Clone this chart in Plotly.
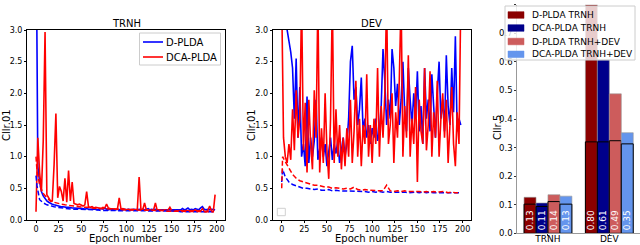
import plotly.graph_objects as go

W, H = 640, 245
def px(x):
    return x / W
def py(y):
    return 1 - y / H

FONT = "DejaVu Sans"

# ---------------- data ----------------
epochs = list(range(0, 200, 2))
epochs_dash = [0, 1] + list(range(4, 200, 4))

line_names = ["D-PLDA", "DCA-PLDA"]

trnh_dplda = [
    5.0, 0.85, 0.6, 0.45, 0.38, 0.33, 0.3, 0.28, 0.26, 0.25,
    0.24, 0.23, 0.22, 0.22, 0.21, 0.21, 0.2, 0.2, 0.2, 0.19,
    0.19, 0.19, 0.19, 0.18, 0.18, 0.18, 0.18, 0.17, 0.18, 0.17,
    0.17, 0.18, 0.17, 0.17, 0.16, 0.17, 0.18, 0.17, 0.19, 0.17,
    0.16, 0.17, 0.16, 0.17, 0.16, 0.17, 0.16, 0.17, 0.16, 0.17,
    0.16, 0.17, 0.16, 0.16, 0.17, 0.16, 0.16, 0.17, 0.16, 0.17,
    0.16, 0.17, 0.18, 0.16, 0.17, 0.16, 0.17, 0.16, 0.16, 0.17,
    0.16, 0.17, 0.16, 0.17, 0.16, 0.17, 0.16, 0.17, 0.16, 0.17,
    0.16, 0.18, 0.16, 0.17, 0.19, 0.16, 0.17, 0.16, 0.18, 0.17,
    0.16, 0.19, 0.21, 0.17, 0.16, 0.17, 0.16, 0.17, 0.16, 0.16,
]
trnh_dcaplda = [
    0.13, 1.3, 0.75, 0.45, 1.25, 2.97, 0.4, 0.35, 0.3, 0.3,
    0.87, 1.68, 0.35, 0.53, 0.45, 0.3, 0.66, 0.28, 0.78, 0.3,
    0.6, 0.26, 0.25, 0.24, 0.25, 0.23, 0.22, 0.24, 0.45, 0.21,
    0.2, 0.21, 0.19, 0.2, 0.19, 0.19, 0.18, 0.2, 0.19, 0.25,
    0.19, 0.18, 0.18, 0.17, 0.18, 0.17, 0.35, 0.17, 0.18, 0.17,
    0.16, 0.17, 0.16, 0.17, 0.16, 0.16, 0.17, 0.68, 0.17, 0.16,
    0.27, 0.16, 0.15, 0.16, 0.15, 0.16, 0.27, 0.15, 0.16, 0.15,
    0.15, 0.16, 0.15, 0.16, 0.2, 0.15, 0.14, 0.15, 0.14, 0.15,
    0.14, 0.15, 0.14, 0.15, 0.14, 0.14, 0.15, 0.14, 0.16, 0.14,
    0.15, 0.14, 0.18, 0.14, 0.13, 0.15, 0.22, 0.14, 0.13, 0.4,
]
trnh_dplda_dash = [
    0.7, 0.55,
    0.32, 0.27, 0.24, 0.22, 0.21, 0.2, 0.19, 0.18, 0.18, 0.17,
    0.17, 0.17, 0.16, 0.16, 0.16, 0.16, 0.16, 0.15, 0.15, 0.15,
    0.15, 0.15, 0.15, 0.15, 0.15, 0.15, 0.15, 0.14, 0.14, 0.14,
    0.14, 0.14, 0.14, 0.14, 0.14, 0.14, 0.14, 0.14, 0.14, 0.13,
    0.13, 0.13, 0.13, 0.13, 0.13, 0.13, 0.13, 0.13, 0.13,
]
trnh_dcaplda_dash = [
    1.0, 0.8,
    0.55, 0.42, 0.35, 0.3, 0.28, 0.26, 0.25, 0.24, 0.23, 0.22,
    0.21, 0.21, 0.2, 0.2, 0.19, 0.19, 0.18, 0.18, 0.18, 0.17,
    0.17, 0.17, 0.17, 0.16, 0.16, 0.16, 0.16, 0.16, 0.15, 0.15,
    0.15, 0.15, 0.15, 0.15, 0.15, 0.14, 0.14, 0.14, 0.14, 0.14,
    0.14, 0.14, 0.14, 0.14, 0.13, 0.13, 0.13, 0.13, 0.13,
]

dev_dplda = [
    3.5, 3.5, 3.5, 3.0, 2.85, 2.65, 2.4, 1.6, 2.55, 1.3,
    2.1, 1.0, 1.2, 0.85, 1.95, 0.9, 1.3, 1.0, 1.25, 1.9,
    0.95, 1.15, 1.3, 1.0, 1.2, 0.85, 1.1, 1.3, 0.95, 1.2,
    1.05, 1.25, 0.9, 1.1, 1.3, 1.0, 1.2, 1.6, 2.5, 2.75,
    1.9, 2.1, 1.5, 1.75, 2.25, 1.4, 1.6, 1.3, 1.5, 1.2,
    1.45, 1.3, 1.6, 1.25, 1.4, 1.8, 2.7, 2.2, 1.5, 1.9,
    1.6, 2.7, 2.4, 1.8, 2.15, 1.5, 1.9, 2.5, 1.7, 1.4,
    2.4, 1.9, 1.5, 2.0, 1.6, 2.35, 1.4, 1.8, 1.2, 2.4,
    1.6, 1.9, 1.4, 2.3, 1.7, 1.3, 2.0, 2.5, 1.6, 1.9,
    1.4, 2.6, 1.8, 1.5, 2.4, 1.7, 2.9, 1.4, 1.6, 1.5,
]
dev_dcaplda = [
    3.5, 1.3, 1.0, 0.9, 1.2, 0.95, 1.75, 1.1, 2.05, 1.3,
    1.6, 3.5, 1.1, 1.85, 0.75, 1.9, 1.2, 0.8, 2.05, 1.3,
    3.5, 0.75, 1.45, 0.9, 2.0, 1.1, 0.65, 1.6, 3.5, 0.9,
    1.75, 1.0, 1.5, 0.8, 1.3, 0.85, 1.45, 1.0, 1.9, 0.9,
    1.4, 2.2, 1.0, 1.6, 0.85, 1.5, 1.2, 2.3, 1.0, 1.5,
    0.9, 1.6, 1.2, 2.4, 1.0, 1.8, 1.3, 2.0, 3.5, 1.2,
    1.5, 2.0, 0.9, 1.7, 1.3, 2.2, 3.5, 1.0, 1.8, 1.3,
    2.6, 1.0, 1.6, 1.2, 2.1, 0.6, 1.9, 1.4, 1.2, 2.4,
    1.1, 1.5, 2.35, 1.0, 1.7, 1.3, 2.2, 1.0, 1.6, 2.0,
    1.3, 1.9, 0.9, 1.5, 2.1, 1.2, 0.85, 1.7, 1.2, 3.5,
]
dev_dplda_dash = [
    0.6, 0.8,
    0.68, 0.6, 0.56, 0.54, 0.52, 0.5, 0.5, 0.49, 0.48, 0.49,
    0.47, 0.47, 0.48, 0.46, 0.47, 0.46, 0.46, 0.45, 0.46, 0.45,
    0.45, 0.46, 0.45, 0.44, 0.45, 0.44, 0.45, 0.44, 0.45, 0.44,
    0.44, 0.45, 0.44, 0.44, 0.43, 0.44, 0.44, 0.43, 0.44, 0.43,
    0.44, 0.43, 0.43, 0.44, 0.43, 0.43, 0.44, 0.43, 0.43,
]
dev_dcaplda_dash = [
    0.5, 1.0,
    0.92, 0.82, 0.72, 0.66, 0.62, 0.6, 0.58, 0.57, 0.55, 0.55,
    0.53, 0.52, 0.52, 0.5, 0.51, 0.5, 0.49, 0.5, 0.49, 0.52,
    0.48, 0.47, 0.48, 0.47, 0.47, 0.46, 0.47, 0.46, 0.55, 0.46,
    0.45, 0.46, 0.45, 0.46, 0.45, 0.45, 0.46, 0.45, 0.44, 0.45,
    0.44, 0.45, 0.44, 0.44, 0.45, 0.43, 0.44, 0.43, 0.43,
]

bar_groups = ["TRNH", "DEV"]
bar_names = ["D-PLDA TRNH", "DCA-PLDA TRNH", "D-PLDA TRNH+DEV", "DCA-PLDA TRNH+DEV"]
bar_full = [
    [0.126, 0.80],
    [0.106, 0.607],
    [0.135, 0.488],
    [0.13, 0.352],
]
bar_inner = [
    [0.102, 0.32],
    [0.094, 0.32],
    [0.111, 0.324],
    [0.102, 0.313],
]
bar_colors = ["#8B0000", "#00008B", "#CD5C5C", "#6495ED"]

# ---------------- figure ----------------
fig = go.Figure()

BLUE, RED = "#0000FF", "#FF0000"
DASH = "5px,2.5px"

def add_lines(xa, ya, solid_b, solid_r, dash_b, dash_r):
    fig.add_trace(go.Scatter(x=epochs, y=solid_b, mode="lines", name=line_names[0],
                             line=dict(color=BLUE, width=1.6), xaxis=xa, yaxis=ya))
    fig.add_trace(go.Scatter(x=epochs, y=solid_r, mode="lines", name=line_names[1],
                             line=dict(color=RED, width=1.6), xaxis=xa, yaxis=ya))
    fig.add_trace(go.Scatter(x=epochs_dash, y=dash_b, mode="lines", name=line_names[0],
                             line=dict(color=BLUE, width=1.5, dash=DASH), xaxis=xa, yaxis=ya))
    fig.add_trace(go.Scatter(x=epochs_dash, y=dash_r, mode="lines", name=line_names[1],
                             line=dict(color=RED, width=1.5, dash=DASH), xaxis=xa, yaxis=ya))

add_lines("x", "y", trnh_dplda, trnh_dcaplda, trnh_dplda_dash, trnh_dcaplda_dash)
add_lines("x2", "y2", dev_dplda, dev_dcaplda, dev_dplda_dash, dev_dcaplda_dash)

for i, name in enumerate(bar_names):
    fig.add_trace(go.Bar(x=bar_groups, y=bar_full[i], name=name, offsetgroup=str(i),
                         marker=dict(color=bar_colors[i],
                                     line=dict(color="rgba(150,150,150,0.6)", width=1)),
                         xaxis="x3", yaxis="y3"))
    fig.add_trace(go.Bar(x=bar_groups, y=bar_inner[i], name=name, offsetgroup=str(i),
                         marker=dict(color=bar_colors[i], line=dict(color="black", width=1)),
                         text=[f"{v:.2f}" for v in bar_full[i]],
                         textposition="inside", insidetextanchor="start", textangle=-90,
                         textfont=dict(color="white", size=9, family=FONT),
                         xaxis="x3", yaxis="y3"))

line_ax = dict(range=[-9.95, 208.95], tickvals=[0, 25, 50, 75, 100, 125, 150, 175, 200],
               ticks="outside", ticklen=2, tickcolor="black", showline=True, mirror=True,
               linecolor="black", linewidth=1, showgrid=False, zeroline=False,
               tickfont=dict(size=8, color="black"), automargin=False,
               ticklabelstandoff=-1)
line_ay = dict(range=[0, 3], tickvals=[0, 0.5, 1.0, 1.5, 2.0, 2.5, 3.0], tickformat=".1f",
               ticks="outside", ticklen=2, tickcolor="black", showline=True, mirror=True,
               linecolor="black", linewidth=1, showgrid=False, zeroline=False,
               tickfont=dict(size=8, color="black"), automargin=False)

yd = [py(220), py(30)]
fig.update_layout(
    width=W, height=H, margin=dict(l=0, r=0, t=0, b=0),
    paper_bgcolor="white", plot_bgcolor="white",
    font=dict(family=FONT, color="black"),
    barmode="group", bargap=0.22, bargroupgap=0.0,
    showlegend=False,
    xaxis=dict(line_ax, domain=[px(27), px(225)], anchor="y"),
    yaxis=dict(line_ay, domain=yd, anchor="x"),
    xaxis2=dict(line_ax, domain=[px(272.7), px(470.7)], anchor="y2"),
    yaxis2=dict(line_ay, domain=yd, anchor="x2"),
    xaxis3=dict(domain=[px(517.3), 1.0], anchor="y3", range=[-0.5, 1.5],
                ticks="outside", ticklen=2, tickcolor="#333", showline=True,
                linecolor="#999", linewidth=1, showgrid=False, zeroline=False,
                tickfont=dict(size=9, color="black"), automargin=False,
                ticklabelstandoff=-5),
    yaxis3=dict(domain=[py(233.3), py(4.7)], anchor="x3", range=[0, 0.8], dtick=0.1,
                tickformat=".1f", ticks="outside", ticklen=2, tickcolor="#333",
                showline=True, linecolor="#999", linewidth=1, showgrid=False,
                zeroline=False, tickfont=dict(size=8.5, color="black"), automargin=False),
    uniformtext=dict(minsize=9, mode="show"),
)

def ann(text, x, y, size=10, angle=0, anchor="center"):
    fig.add_annotation(text=text, x=px(x), y=py(y), xref="paper", yref="paper",
                       showarrow=False, textangle=angle,
                       font=dict(size=size, family=FONT, color="black"),
                       xanchor=anchor, yanchor="middle")

def rect(x0, y0, x1, y1, fill, line_color, lw=1):
    fig.add_shape(type="rect", xref="paper", yref="paper",
                  x0=px(x0), x1=px(x1), y0=py(y1), y1=py(y0),
                  line=dict(color=line_color, width=lw), fillcolor=fill)

ann("TRNH", 126, 23.5)
ann("DEV", 371.7, 23.5)
ann("Epoch number", 126, 238.5)
ann("Epoch number", 371.7, 238.5)
ann("Cllr.01", 6, 125, angle=-90)
ann("Cllr.01", 251, 125, angle=-90)
ann("Cllr.5", 497, 128, angle=-90)

# legend of the TRNH panel
rect(139.5, 33, 220.5, 65, "rgba(255,255,255,0.8)", "#cccccc")
for name, col, yy in zip(line_names, [BLUE, RED], [42, 57]):
    fig.add_shape(type="line", xref="paper", yref="paper",
                  x0=px(143), x1=px(163), y0=py(yy), y1=py(yy),
                  line=dict(color=col, width=1.6))
    ann(name, 163.5, yy, size=10, anchor="left")

# empty legend frame in DEV panel
rect(277.3, 208.3, 285.3, 215.7, "white", "#d0d0d0")

# legend of the bar panel
rect(505, 6, 635, 60, "rgba(255,255,255,0.8)", "#cccccc")
for name, col, yy in zip(bar_names, bar_colors, [15, 28, 41.5, 54.3]):
    rect(508, yy - 3.3, 524, yy + 3.3, col, col, 0.5)
    ann(name, 529.5, yy, size=9, anchor="left")

fig.write_html("out.html",
               config={"displayModeBar": False},
               post_script="document.body.style.margin='0';"
                           "document.body.style.overflow='hidden';")
